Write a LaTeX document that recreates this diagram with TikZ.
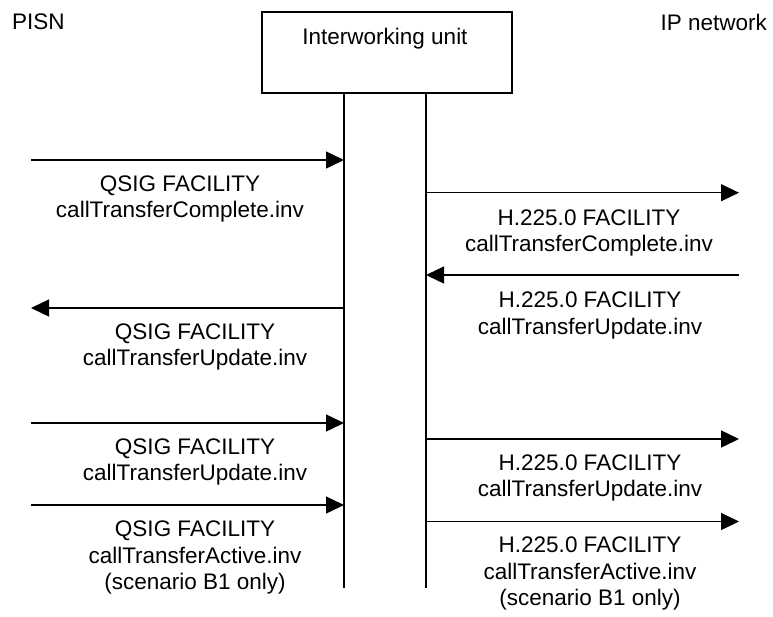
\documentclass[tikz,border=0pt]{standalone}
\usepackage{fontspec}
\setmainfont{Liberation Sans}
\usetikzlibrary{arrows.meta}
\begin{document}
\begin{tikzpicture}[x=1pt,y=-1pt,
  msg/.style={line width=1.4pt, -{Triangle[length=18pt,width=17pt]}},
  lbl/.style={align=center, font=\fontsize{22.5}{26.5}\selectfont, inner sep=0pt},
  life/.style={line width=1.5pt},
  unit/.style={draw, line width=1.4pt, minimum width=250pt, minimum height=81pt, inner sep=0pt}]
\useasboundingbox (0,0) rectangle (773,616);
% headings
\node[lbl, anchor=west] (pisn) at (12,22) {PISN};
\node[lbl, anchor=east] (ipn) at (767,22) {IP network};
\node[unit] (iwu) at (387,52.5) {};
\node[lbl] (iwut) at (385,38.5) {Interworking unit};
% lifelines
\coordinate (lt) at (344,93);
\coordinate (lb) at (344,588);
\coordinate (rt) at (426,93);
\coordinate (rb) at (426,588);
\draw[life] (lt) -- (lb);
\draw[life] (rt) -- (rb);
% endpoints
\foreach \n/\y in {1/160,2/308,5/423,6/505}{
  \coordinate (p\n) at (31,\y);
  \coordinate (q\n) at (344,\y);
}
\foreach \n/\y in {3/192.7,4/275,7/439,8/521.5}{
  \coordinate (q\n) at (426,\y);
  \coordinate (p\n) at (739,\y);
}
\draw[msg] (p1) -- (q1);
\draw[msg] (q2) -- (p2);
\draw[msg] (q3) -- (p3);
\draw[msg] (p4) -- (q4);
\draw[msg] (p5) -- (q5);
\draw[msg] (p6) -- (q6);
\draw[msg] (q7) -- (p7);
\draw[msg] (q8) -- (p8);
% labels
\node[lbl] (l1) at (180,199) {QSIG FACILITY\\callTransferComplete.inv};
\node[lbl] (l2) at (195,347) {QSIG FACILITY\\callTransferUpdate.inv};
\node[lbl] (l3) at (589,233) {H.225.0 FACILITY\\callTransferComplete.inv};
\node[lbl] (l4) at (590,315.5) {H.225.0 FACILITY\\callTransferUpdate.inv};
\node[lbl] (l5) at (195,462) {QSIG FACILITY\\callTransferUpdate.inv};
\node[lbl] (l6) at (195,557.5) {QSIG FACILITY\\callTransferActive.inv\\(scenario B1 only)};
\node[lbl] (l7) at (590,478) {H.225.0 FACILITY\\callTransferUpdate.inv};
\node[lbl] (l8) at (590,573.5) {H.225.0 FACILITY\\callTransferActive.inv\\(scenario B1 only)};
\end{tikzpicture}
\end{document}
